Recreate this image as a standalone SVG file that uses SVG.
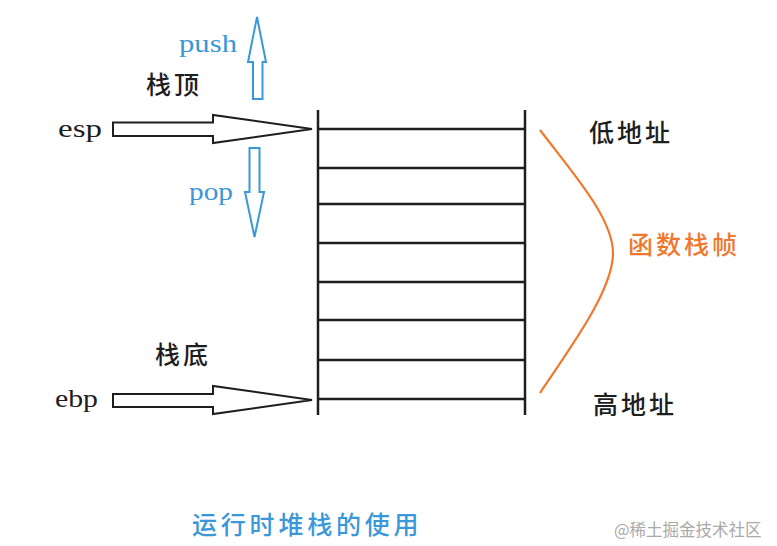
<svg xmlns="http://www.w3.org/2000/svg" width="777" height="546" viewBox="0 0 777 546">
<style>
.bg{fill:#ffffff}
.stk{stroke:#1e1e1e;stroke-width:2.5;fill:none}
.big{fill:#ffffff;stroke:#1e1e1e;stroke-width:2}
.blue{fill:#ffffff;stroke:#3a98d8;stroke-width:2}
.cn{font-family:"Noto Sans CJK SC","Noto Sans",sans-serif;font-size:25px;font-weight:500;letter-spacing:3px;fill:#1e1e1e}
.lat{font-family:"Liberation Serif","DejaVu Serif",serif;font-size:26px;fill:#1e1e1e}
.bl{fill:#3a98d8}
.or{fill:#f0782d}
</style>
<rect class="bg" x="0" y="0" width="777" height="546"/>
<g id="stack">
<line class="stk" x1="318" y1="110" x2="318" y2="415"/>
<line class="stk" x1="525" y1="110" x2="525" y2="415"/>
<line class="stk" x1="318" y1="129" x2="525" y2="129"/>
<line class="stk" x1="318" y1="168" x2="525" y2="168"/>
<line class="stk" x1="318" y1="204" x2="525" y2="204"/>
<line class="stk" x1="318" y1="243" x2="525" y2="243"/>
<line class="stk" x1="318" y1="282" x2="525" y2="282"/>
<line class="stk" x1="318" y1="320" x2="525" y2="320"/>
<line class="stk" x1="318" y1="360" x2="525" y2="360"/>
<line class="stk" x1="318" y1="399" x2="525" y2="399"/>
</g>
<g id="connectors">
<polygon id="esp-arrow" class="big" points="113,122.5 213,122.5 213,115 312,129 213,143 213,136 113,136"/>
<polygon id="ebp-arrow" class="big" points="113,394 213,394 213,386 312,400 213,414 213,407 113,407"/>
<polygon id="push-arrow" class="blue" points="257,17 266,62 262.5,62 262.5,99 253,99 253,62 248,62"/>
<polygon id="pop-arrow" class="blue" points="249.5,148 259.5,148 259.5,192 264,192 254.5,237 245,192 249.5,192"/>
<path id="frame-brace" d="M540,130 C572,172 613,218 613,253 C613,290 572,345 540,393" fill="none" stroke="#f0782d" stroke-width="2.2"/>
</g>
<g id="label-esp"><text class="lat" x="58" y="137" textLength="44" lengthAdjust="spacingAndGlyphs">esp</text></g>
<g id="label-ebp"><text class="lat" x="55" y="407" textLength="43" lengthAdjust="spacingAndGlyphs">ebp</text></g>
<g id="label-push"><text class="lat bl" x="179" y="52" textLength="58" lengthAdjust="spacingAndGlyphs">push</text></g>
<g id="label-pop"><text class="lat bl" x="189" y="200" textLength="44" lengthAdjust="spacingAndGlyphs">pop</text></g>
<g id="label-top"><text class="cn" x="146" y="94">栈顶</text></g>
<g id="label-bottom"><text class="cn" x="155" y="364">栈底</text></g>
<g id="label-low"><text class="cn" x="589" y="142">低地址</text></g>
<g id="label-high"><text class="cn" x="593" y="414">高地址</text></g>
<g id="label-frame"><text class="cn or" x="628" y="254">函数栈帧</text></g>
<g id="title"><text class="cn bl" x="192" y="534" style="font-size:25px;letter-spacing:3.8px">运行时堆栈的使用</text></g>
<g id="watermark"><text x="614" y="536" style="font-family:'Noto Sans CJK SC','Noto Sans',sans-serif;font-size:16.5px;fill:#aaaaaa">@稀土掘金技术社区</text></g>
</svg>
